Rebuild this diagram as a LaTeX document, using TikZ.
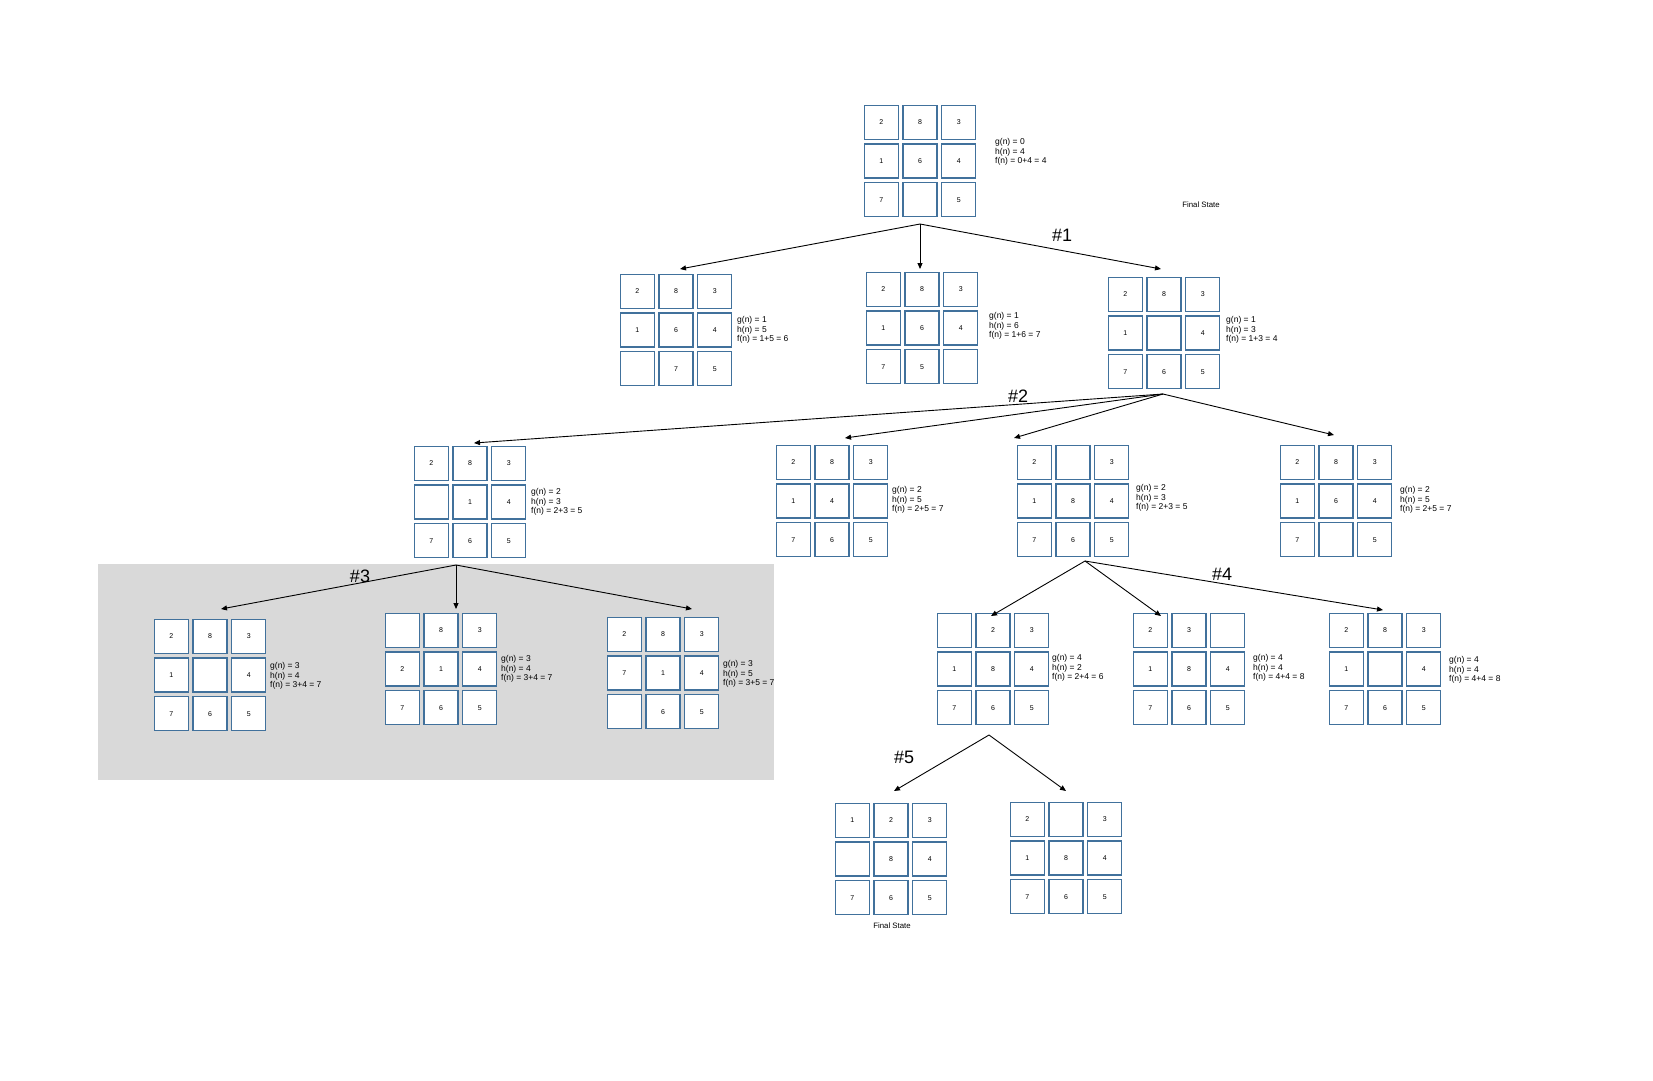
\documentclass[tikz,border=0pt]{standalone}
\usepackage{fontspec}
\setmainfont{Liberation Sans}
\usetikzlibrary{arrows.meta}
\definecolor{cellblue}{HTML}{41719C}
\definecolor{panelgray}{HTML}{D9D9D9}
\tikzset{
  cell/.style={draw=cellblue, line width=1.2pt, fill=white, minimum size=34pt, inner sep=0pt, font=\fontsize{7}{8}\selectfont},
  info/.style={anchor=west, align=left, font=\fontsize{8.5}{9.5}\selectfont, inner sep=0pt},
  steplabel/.style={font=\fontsize{18}{20}\selectfont, inner sep=0pt},
  finallabel/.style={font=\fontsize{7.8}{9}\selectfont, inner sep=0pt},
  link/.style={line width=0.9pt, -{Triangle[length=6pt,width=5pt]}},
}
\newcommand{\puzzle}[4]{%
  \foreach \v [count=\i from 0] in {#4} {%
    \pgfmathtruncatemacro{\prow}{\i/3}%
    \pgfmathtruncatemacro{\pcol}{mod(\i,3)}%
    \node[cell] (#1-\i) at ({#2+(\pcol-1)*38.8},{#3+(\prow-1)*38.8}) {\v};
  }}
\begin{document}
\begin{tikzpicture}[x=1pt,y=-1pt]
\fill[white] (0,0) rectangle (1653,1080);
\useasboundingbox (0,0) rectangle (1653,1080);
\fill[panelgray] (98,564) rectangle (774,780);

% puzzles
\puzzle{p0}{920}{161}{2,8,3,1,6,4,7,{},5}
\puzzle{pa}{676}{330}{2,8,3,1,6,4,{},7,5}
\puzzle{pb}{922}{328}{2,8,3,1,6,4,7,5,{}}
\puzzle{pc}{1164}{333}{2,8,3,1,{},4,7,6,5}
\puzzle{pd}{470}{502}{2,8,3,{},1,4,7,6,5}
\puzzle{pe}{832}{501}{2,8,3,1,4,{},7,6,5}
\puzzle{pf}{1073}{501}{2,{},3,1,8,4,7,6,5}
\puzzle{pg}{1336}{501}{2,8,3,1,6,4,7,{},5}
\puzzle{ph}{210}{675}{2,8,3,1,{},4,7,6,5}
\puzzle{pi}{441}{669}{{},8,3,2,1,4,7,6,5}
\puzzle{pj}{663}{673}{2,8,3,7,1,4,{},6,5}
\puzzle{pk}{993}{669}{{},2,3,1,8,4,7,6,5}
\puzzle{pl}{1189}{669}{2,3,{},1,8,4,7,6,5}
\puzzle{pm}{1385}{669}{2,8,3,1,{},4,7,6,5}
\puzzle{pn}{891}{859}{1,2,3,{},8,4,7,6,5}
\puzzle{po}{1066}{858}{2,{},3,1,8,4,7,6,5}

% info texts
\node[info] (t0) at (995,152) {g(n) = 0\\h(n) = 4\\f(n) = 0+4 = 4};
\node[info] (ta) at (737,330) {g(n) = 1\\h(n) = 5\\f(n) = 1+5 = 6};
\node[info] (tb) at (989,326) {g(n) = 1\\h(n) = 6\\f(n) = 1+6 = 7};
\node[info] (tc) at (1226,330) {g(n) = 1\\h(n) = 3\\f(n) = 1+3 = 4};
\node[info] (td) at (531,502) {g(n) = 2\\h(n) = 3\\f(n) = 2+3 = 5};
\node[info] (te) at (892,500) {g(n) = 2\\h(n) = 5\\f(n) = 2+5 = 7};
\node[info] (tf) at (1136,498) {g(n) = 2\\h(n) = 3\\f(n) = 2+3 = 5};
\node[info] (tg) at (1400,500) {g(n) = 2\\h(n) = 5\\f(n) = 2+5 = 7};
\node[info] (th) at (270,676) {g(n) = 3\\h(n) = 4\\f(n) = 3+4 = 7};
\node[info] (ti) at (501,669) {g(n) = 3\\h(n) = 4\\f(n) = 3+4 = 7};
\node[info] (tj) at (723,674) {g(n) = 3\\h(n) = 5\\f(n) = 3+5 = 7};
\node[info] (tk) at (1052,668) {g(n) = 4\\h(n) = 2\\f(n) = 2+4 = 6};
\node[info] (tl) at (1253,668) {g(n) = 4\\h(n) = 4\\f(n) = 4+4 = 8};
\node[info] (tm) at (1449,670) {g(n) = 4\\h(n) = 4\\f(n) = 4+4 = 8};

% labels
\node[finallabel] (fs1) at (1201,205) {Final State};
\node[finallabel] (fs2) at (892,926) {Final State};
\node[steplabel] (s1) at (1062,235) {\#1};
\node[steplabel] (s2) at (1018,396) {\#2};
\node[steplabel] (s3) at (360,576) {\#3};
\node[steplabel] (s4) at (1222,574) {\#4};
\node[steplabel] (s5) at (904,757) {\#5};

% connector coordinates
\coordinate (o0) at (920,224);
\coordinate (ea) at (680,269);
\coordinate (eb) at (920,269);
\coordinate (ec) at (1161,269);
\coordinate (o1) at (1163,394);
\coordinate (ed) at (474,443);
\coordinate (ee) at (845,438);
\coordinate (ef) at (1014,438);
\coordinate (eg) at (1334,435);
\coordinate (o2) at (456,565);
\coordinate (eh) at (221,609);
\coordinate (ei) at (456,609);
\coordinate (ej) at (692,609);
\coordinate (o3) at (1085,561);
\coordinate (ek) at (991,616);
\coordinate (el) at (1161,616);
\coordinate (em) at (1383,610);
\coordinate (o4) at (989,735);
\coordinate (en) at (894,791);
\coordinate (eo) at (1066,791);

\foreach \e in {ea,eb,ec} \draw[link] (o0) -- (\e);
\foreach \e in {ed,ee,ef,eg} \draw[link] (o1) -- (\e);
\foreach \e in {eh,ei,ej} \draw[link] (o2) -- (\e);
\foreach \e in {ek,el,em} \draw[link] (o3) -- (\e);
\foreach \e in {en,eo} \draw[link] (o4) -- (\e);
\end{tikzpicture}
\end{document}
